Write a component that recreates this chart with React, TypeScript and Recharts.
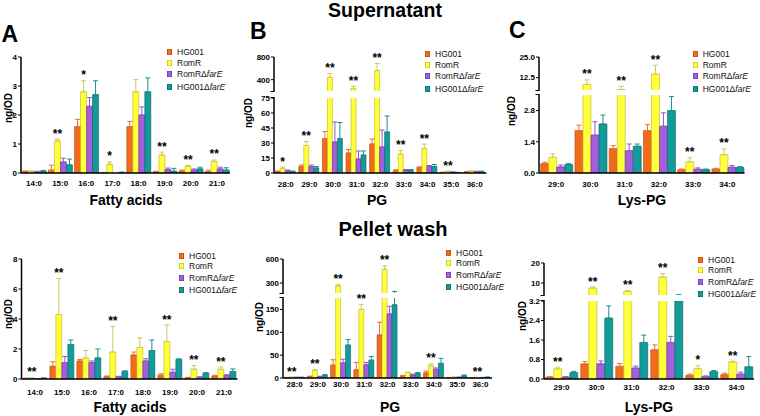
import React from 'react';
import { BarChart, Bar, XAxis, YAxis, ErrorBar, ReferenceArea, LabelList, Legend } from 'recharts';

const FONT = '"Liberation Sans", Arial, Helvetica, sans-serif';

// ---------- series ----------
const seriesNames = ['HG001', 'RomR', 'RomRΔfarE', 'HG001ΔfarE'];
const seriesFill = ['#F26B1D', '#FFFF3B', '#A35FDB', '#139A9A'];
const seriesStroke = ['#B24A0E', '#B9B51C', '#6A2F9E', '#0A6262'];
const errStroke = ['#E0742E', '#CFC95A', '#9556CC', '#1E8E8E'];

// ---------- A: Supernatant, fatty acids ----------
const supFaCats = ['14:0', '15:0', '16:0', '17:0', '18:0', '19:0', '20:0', '21:0'];
const supFaHG001 = [0.05, 0.1, 1.6, 0.01, 1.6, 0.04, 0.07, 0.05];
const supFaHG001Err = [0.02, 0.17, 0.25, 0.01, 0.18, 0.02, 0.03, 0.05];
const supFaRomR = [0.06, 1.1, 2.8, 0.3, 2.8, 0.62, 0.23, 0.4];
const supFaRomRErr = [0.02, 0.07, 0.38, 0.08, 0.42, 0.1, 0.03, 0.05];
const supFaRomRdFarE = [0.04, 0.38, 2.3, 0.0, 2.0, 0.12, 0.1, 0.14];
const supFaRomRdFarEErr = [0.02, 0.13, 0.3, 0.0, 0.28, 0.05, 0.04, 0.06];
const supFaHG001dFarE = [0.07, 0.28, 2.7, 0.02, 2.8, 0.06, 0.14, 0.1];
const supFaHG001dFarEErr = [0.02, 0.2, 0.48, 0.01, 0.48, 0.1, 0.06, 0.08];
const supFaSig = ['', '**', '*', '*', '', '**', '**', '**'];
const supFaTicks = [0, 1, 2, 3, 4];

// ---------- B: Supernatant, PG ----------
const supPgCats = ['28:0', '29:0', '30:0', '31:0', '32:0', '33:0', '34:0', '35:0', '36:0'];
const supPgHG001 = [1.5, 6.5, 34.5, 20, 29, 2.5, 5.5, 0.5, 1.2];
const supPgHG001Err = [0.5, 1.5, 7, 3.5, 5, 0.7, 0.7, 0.3, 0.3];
const supPgRomR = [4.5, 27.5, 440, 245, 560, 19, 24.5, 1.5, 1.8];
const supPgRomRErr = [1.5, 4, 70, 40, 127, 3.5, 4.5, 0.5, 0.5];
const supPgRomRdFarE = [2.5, 6.5, 31, 14, 26, 3, 6.5, 0.8, 1.5];
const supPgRomRdFarEErr = [0.5, 1.5, 20, 8, 17, 0.5, 1, 0.3, 0.3];
const supPgHG001dFarE = [1.5, 5, 34.5, 18, 41, 3, 6.5, 0.5, 1.5];
const supPgHG001dFarEErr = [0.5, 1.5, 16, 4, 16, 0.5, 2, 0.2, 0.3];
const supPgSig = ['*', '**', '**', '**', '**', '**', '**', '**', ''];
const supPgLowTicks = [0, 15, 30, 45, 60, 75];
const supPgHighTicks = [400, 800];

// ---------- C: Supernatant, Lys-PG ----------
const supLysCats = ['29:0', '30:0', '31:0', '32:0', '33:0', '34:0'];
const supLysHG001 = [0.42, 1.9, 1.1, 1.9, 0.15, 0.18];
const supLysHG001Err = [0.07, 0.25, 0.13, 0.27, 0.03, 0.03];
const supLysRomR = [0.7, 8.4, 5.3, 14.7, 0.5, 0.82];
const supLysRomRErr = [0.16, 2.7, 1.9, 5.3, 0.18, 0.26];
const supLysRomRdFarE = [0.27, 1.7, 1.0, 2.1, 0.17, 0.26];
const supLysRomRdFarEErr = [0.09, 0.6, 0.3, 0.6, 0.06, 0.08];
const supLysHG001dFarE = [0.38, 2.2, 1.2, 2.8, 0.15, 0.25];
const supLysHG001dFarEErr = [0.04, 0.4, 0.1, 0.63, 0.03, 0.04];
const supLysSig = ['', '**', '**', '**', '**', '**'];
const supLysLowTicks = [0, 1.4, 2.8];
const supLysHighTicks = [12.5, 25];

// ---------- Pellet wash, fatty acids ----------
const pelFaCats = ['14:0', '15:0', '16:0', '17:0', '18:0', '19:0', '20:0', '21:0'];
const pelFaHG001 = [0.04, 0.85, 1.2, 0.15, 1.6, 0.25, 0.08, 0.2];
const pelFaHG001Err = [0.02, 0.3, 0.1, 0.05, 0.2, 0.1, 0.03, 0.05];
const pelFaRomR = [0.06, 4.3, 1.4, 1.8, 2.1, 2.5, 0.65, 0.65];
const pelFaRomRErr = [0.03, 2.4, 0.5, 1.7, 0.65, 1.1, 0.25, 0.15];
const pelFaRomRdFarE = [0.02, 1.1, 1.1, 0.15, 1.2, 0.45, 0.12, 0.25];
const pelFaRomRdFarEErr = [0.01, 0.4, 0.1, 0.03, 0.15, 0.2, 0.03, 0.03];
const pelFaHG001dFarE = [0.05, 2.3, 1.4, 0.5, 1.9, 1.3, 0.38, 0.5];
const pelFaHG001dFarEErr = [0.02, 0.3, 0.6, 0.05, 0.7, 0.05, 0.05, 0.17];
const pelFaSig = ['**', '**', '', '**', '', '**', '**', '**'];
const pelFaTicks = [0, 2, 4, 6, 8];

// ---------- Pellet wash, PG ----------
const pelPgCats = ['28:0', '29:0', '30:0', '31:0', '32:0', '33:0', '34:0', '35:0', '36:0'];
const pelPgHG001 = [0.8, 3, 28, 18, 94, 4, 11, 1, 0.5];
const pelPgHG001Err = [0.5, 1, 12, 16, 28, 1.5, 4, 0.3, 0.3];
const pelPgRomR = [1.5, 17, 262, 150, 471, 12, 27, 1.5, 0.8];
const pelPgRomRErr = [0.5, 1, 18, 11, 43, 1, 4, 0.5, 0.3];
const pelPgRomRdFarE = [1.2, 3, 33, 29, 140, 7, 19, 1.5, 1];
const pelPgRomRdFarEErr = [0.5, 0.8, 8, 5, 17, 1.5, 3, 0.5, 0.3];
const pelPgHG001dFarE = [1.2, 6, 72, 39, 160, 10, 32, 5, 1.5];
const pelPgHG001dFarEErr = [0.5, 1.5, 12, 8, 35, 2, 11, 1.5, 0.5];
const pelPgSig = ['**', '**', '**', '**', '**', '', '**', '', '**'];
const pelPgLowTicks = [0, 50, 100, 150];
const pelPgHighTicks = [300, 600];

// ---------- Pellet wash, Lys-PG ----------
const pelLysCats = ['29:0', '30:0', '31:0', '32:0', '33:0', '34:0'];
const pelLysHG001 = [0.08, 0.62, 0.52, 1.2, 0.15, 0.18];
const pelLysHG001Err = [0.02, 0.1, 0.12, 0.2, 0.05, 0.06];
const pelLysRomR = [0.42, 7.5, 5.8, 13, 0.42, 0.7];
const pelLysRomRErr = [0.07, 0.5, 0.5, 1.7, 0.12, 0.03];
const pelLysRomRdFarE = [0.08, 0.62, 0.45, 1.5, 0.1, 0.2];
const pelLysRomRdFarEErr = [0.02, 0.12, 0.08, 0.25, 0.03, 0.08];
const pelLysHG001dFarE = [0.26, 2.5, 1.5, 3.2, 0.3, 0.5];
const pelLysHG001dFarEErr = [0.05, 0.5, 0.3, 1.0, 0.05, 0.42];
const pelLysSig = ['**', '**', '**', '**', '*', '**'];
const pelLysLowTicks = [0, 0.8, 1.6, 2.4, 3.2];
const pelLysHighTicks = [10, 20];

// ---------- helpers ----------
type AxisCfg = {
  lowMax: number; lowPx: number;
  highMin?: number; highMax?: number; gapPx?: number; highPx?: number;
};

function makeDisp(a: AxisCfg) {
  return (v: number) => {
    if (a.highMin === undefined || v <= a.lowMax) return (v / a.lowMax) * a.lowPx;
    const gap = a.gapPx || 0;
    if (v < a.highMin) return a.lowPx + ((v - a.lowMax) / (a.highMin - a.lowMax)) * gap;
    return a.lowPx + gap + ((v - a.highMin) / ((a.highMax as number) - a.highMin)) * (a.highPx || 0);
  };
}

function BreakShape(props: any) {
  const { x, y, width, height } = props;
  if (x == null || y == null) return null;
  return (
    <g>
      <rect x={x - 1.3} y={y} width={width + 1.3} height={height} fill="#fff" />
      <line x1={x - 3.5} x2={x + 0.75} y1={y + 0.5} y2={y + 0.5} stroke="#000" strokeWidth={1} />
      <line x1={x - 3.5} x2={x + 0.75} y1={y + height - 0.5} y2={y + height - 0.5} stroke="#000" strokeWidth={1} />
    </g>
  );
}

const legendOffsets = [0, 10.5, 22, 34.5];

function LegendLabel({ name }: { name: string }) {
  const i = name.indexOf('Δ');
  if (i < 0) return <>{name}</>;
  return (
    <>
      {name.slice(0, i + 1)}
      <i>{name.slice(i + 1)}</i>
    </>
  );
}

function LegendBox() {
  return (
    <div style={{ position: 'relative', width: 66, height: 44, fontSize: 8.5, lineHeight: '10px', color: '#111', fontFamily: FONT }}>
      {seriesNames.map((n, k) => (
        <div key={n} style={{ position: 'absolute', left: 0, top: legendOffsets[k], height: 10, whiteSpace: 'nowrap' }}>
          <span
            style={{
              position: 'absolute', left: 0, top: 2, width: 5, height: 6,
              background: seriesFill[k], boxShadow: `inset 0 0 0 0.6px ${seriesStroke[k]}`,
            }}
          />
          <span style={{ position: 'absolute', left: 10, top: 0 }}>
            <LegendLabel name={n} />
          </span>
        </div>
      ))}
    </div>
  );
}

type PanelCfg = {
  cats: string[];
  values: number[][];
  errors: number[][];
  sig: string[];
  axis: AxisCfg;
  lowTicks: number[];
  highTicks: number[];
  lowDec: number;
  highDec: number;
  plotLeft: number;
  plotRight: number;
  plotBottom: number;
  xTickMargin: number;
  legendX: number;
  legendY: number;
};

const KEYS = ['s0', 's1', 's2', 's3'];

function Panel({ cfg }: { cfg: PanelCfg }) {
  const disp = makeDisp(cfg.axis);
  const total = cfg.axis.lowPx + (cfg.axis.highMin !== undefined ? (cfg.axis.gapPx || 0) + (cfg.axis.highPx || 0) : 0);
  const plotTop = cfg.plotBottom - total;
  const left = Math.max(0, cfg.plotLeft - 32);
  const yW = cfg.plotLeft - left;
  const mTop = 22;
  const xH = 24;
  const top = plotTop - mTop;
  const width = cfg.plotRight - left + 4;
  const height = cfg.plotBottom - top + xH;

  const data = cfg.cats.map((c, i) => {
    const row: any = { cat: c };
    cfg.values.forEach((arr, k) => {
      const v = arr[i];
      const e = cfg.errors[k][i];
      row[KEYS[k]] = disp(v);
      row[KEYS[k] + 'e'] = [0, disp(v + e) - disp(v)];
    });
    return row;
  });

  const tickList = [
    ...cfg.lowTicks.map((v) => ({ d: disp(v), label: v.toFixed(cfg.lowDec) })),
    ...cfg.highTicks.map((v) => ({ d: disp(v), label: v.toFixed(cfg.highDec) })),
  ];
  const fmt = (v: number) => {
    let best = tickList[0];
    for (const t of tickList) if (Math.abs(t.d - v) < Math.abs(best.d - v)) best = t;
    return best.label;
  };

  const sigContent = (p: any) => {
    const i = p.index;
    const s = cfg.sig[i];
    if (!s) return null;
    const vb = p.viewBox && p.viewBox.x != null ? p.viewBox : p;
    const x = Number(vb.x);
    const y = Number(vb.y);
    const w = Number(vb.width);
    const h = Number(vb.height);
    if (!isFinite(x) || !isFinite(y)) return null;
    const base = y + (isFinite(h) ? h : 0);
    const v = cfg.values[1][i];
    const e = cfg.errors[1][i];
    const yTop = base - disp(v + e);
    return (
      <text key={`sig-${i}`} x={x + w / 2} y={yTop - 1.5} textAnchor="middle" fontSize={12} fontWeight={700} fill="#000">
        {s}
      </text>
    );
  };

  return (
    <div style={{ position: 'absolute', left, top }}>
      <BarChart
        width={width}
        height={height}
        data={data}
        margin={{ top: mTop, right: 4, bottom: 0, left: 0 }}
        barCategoryGap="5%"
        barGap={0}
      >
        <XAxis
          dataKey="cat"
          interval={0}
          tickLine={false}
          tickSize={0}
          tickMargin={cfg.xTickMargin}
          height={xH}
          axisLine={{ stroke: '#000', strokeWidth: 1.5 }}
          tick={{ fontSize: 8, fontWeight: 700, fill: '#000' }}
        />
        <YAxis
          type="number"
          domain={[0, total]}
          ticks={tickList.map((t) => t.d)}
          tickFormatter={fmt}
          interval={0}
          allowDataOverflow
          width={yW}
          tickSize={3}
          tickMargin={1}
          tickLine={{ stroke: '#000', strokeWidth: 1 }}
          axisLine={{ stroke: '#000', strokeWidth: 1.5 }}
          tick={{ fontSize: 8, fontWeight: 700, fill: '#000' }}
        />
        {KEYS.map((k, idx) => (
          <Bar
            key={k}
            dataKey={k}
            name={seriesNames[idx]}
            fill={seriesFill[idx]}
            stroke={seriesStroke[idx]}
            strokeWidth={0.6}
            isAnimationActive={false}
          >
            <ErrorBar dataKey={k + 'e'} width={2.5} stroke={errStroke[idx]} strokeWidth={1} direction="y" />
            {idx === 1 ? <LabelList dataKey={k} content={sigContent} /> : null}
          </Bar>
        ))}
        {cfg.axis.highMin !== undefined ? (
          <ReferenceArea
            y1={cfg.axis.lowPx}
            y2={cfg.axis.lowPx + (cfg.axis.gapPx || 0)}
            ifOverflow="visible"
            shape={BreakShape}
            zIndex={1500}
          />
        ) : null}
        <Legend
          layout="vertical"
          align="center"
          verticalAlign="middle"
          content={() => <LegendBox />}
          wrapperStyle={{ left: cfg.legendX - left, top: cfg.legendY - 5 - top, width: 70, height: 46 }}
        />
      </BarChart>
    </div>
  );
}

// ---------- panel configs (built from arrays) ----------
const panelA: PanelCfg = {
  cats: supFaCats,
  values: [supFaHG001, supFaRomR, supFaRomRdFarE, supFaHG001dFarE],
  errors: [supFaHG001Err, supFaRomRErr, supFaRomRdFarEErr, supFaHG001dFarEErr],
  sig: supFaSig,
  axis: { lowMax: 4, lowPx: 116 },
  lowTicks: supFaTicks, highTicks: [], lowDec: 0, highDec: 0,
  plotLeft: 21, plotRight: 230, plotBottom: 173, xTickMargin: 7,
  legendX: 167, legendY: 52.3,
};
const panelB: PanelCfg = {
  cats: supPgCats,
  values: [supPgHG001, supPgRomR, supPgRomRdFarE, supPgHG001dFarE],
  errors: [supPgHG001Err, supPgRomRErr, supPgRomRdFarEErr, supPgHG001dFarEErr],
  sig: supPgSig,
  axis: { lowMax: 75, lowPx: 75, highMin: 200, highMax: 800, gapPx: 7, highPx: 34 },
  lowTicks: supPgLowTicks, highTicks: supPgHighTicks, lowDec: 0, highDec: 0,
  plotLeft: 273.5, plotRight: 486, plotBottom: 173, xTickMargin: 8.4,
  legendX: 425, legendY: 54.3,
};
const panelC: PanelCfg = {
  cats: supLysCats,
  values: [supLysHG001, supLysRomR, supLysRomRdFarE, supLysHG001dFarE],
  errors: [supLysHG001Err, supLysRomRErr, supLysRomRdFarEErr, supLysHG001dFarEErr],
  sig: supLysSig,
  axis: { lowMax: 3.5, lowPx: 78, highMin: 5, highMax: 25, gapPx: 5, highPx: 33 },
  lowTicks: supLysLowTicks, highTicks: supLysHighTicks, lowDec: 1, highDec: 1,
  plotLeft: 538.5, plotRight: 744, plotBottom: 173, xTickMargin: 8.8,
  legendX: 692.7, legendY: 54.3,
};
const panelD: PanelCfg = {
  cats: pelFaCats,
  values: [pelFaHG001, pelFaRomR, pelFaRomRdFarE, pelFaHG001dFarE],
  errors: [pelFaHG001Err, pelFaRomRErr, pelFaRomRdFarEErr, pelFaHG001dFarEErr],
  sig: pelFaSig,
  axis: { lowMax: 8, lowPx: 120 },
  lowTicks: pelFaTicks, highTicks: [], lowDec: 0, highDec: 0,
  plotLeft: 21.5, plotRight: 237.5, plotBottom: 379, xTickMargin: 10.8,
  legendX: 179, legendY: 255.7,
};
const panelE: PanelCfg = {
  cats: pelPgCats,
  values: [pelPgHG001, pelPgRomR, pelPgRomRdFarE, pelPgHG001dFarE],
  errors: [pelPgHG001Err, pelPgRomRErr, pelPgRomRdFarEErr, pelPgHG001dFarEErr],
  sig: pelPgSig,
  axis: { lowMax: 175, lowPx: 80, highMin: 175, highMax: 600, gapPx: 5, highPx: 34 },
  lowTicks: pelPgLowTicks, highTicks: pelPgHighTicks, lowDec: 0, highDec: 0,
  plotLeft: 283, plotRight: 492, plotBottom: 378, xTickMargin: 3.1,
  legendX: 446, legendY: 252.7,
};
const panelF: PanelCfg = {
  cats: pelLysCats,
  values: [pelLysHG001, pelLysRomR, pelLysRomRdFarE, pelLysHG001dFarE],
  errors: [pelLysHG001Err, pelLysRomRErr, pelLysRomRdFarEErr, pelLysHG001dFarEErr],
  sig: pelLysSig,
  axis: { lowMax: 3.2, lowPx: 78, highMin: 4, highMax: 20, gapPx: 6, highPx: 32 },
  lowTicks: pelLysLowTicks, highTicks: pelLysHighTicks, lowDec: 1, highDec: 0,
  plotLeft: 544, plotRight: 754, plotBottom: 379.3, xTickMargin: 5.8,
  legendX: 698, legendY: 260,
};

const yTitles = [
  { x: 8, y: 108 },
  { x: 248.5, y: 113 },
  { x: 511, y: 111 },
  { x: 8, y: 314 },
  { x: 259.5, y: 317 },
  { x: 522, y: 316 },
];

const xTitles = [
  { t: 'Fatty acids', x: 126, y: 205 },
  { t: 'PG', x: 377, y: 205 },
  { t: 'Lys-PG', x: 642, y: 205 },
  { t: 'Fatty acids', x: 130, y: 411.5 },
  { t: 'PG', x: 390, y: 411.5 },
  { t: 'Lys-PG', x: 649, y: 411.5 },
];

export default function App() {
  return (
    <div
      style={{
        position: 'absolute', left: 0, top: 0, width: 760, height: 416,
        background: '#fff', overflow: 'hidden', fontFamily: FONT,
      }}
    >
      {[panelA, panelB, panelC, panelD, panelE, panelF].map((p, i) => (
        <Panel key={i} cfg={p} />
      ))}
      <svg width={760} height={416} style={{ position: 'absolute', left: 0, top: 0, pointerEvents: 'none' }}>
        <text x={385} y={17} textAnchor="middle" fontSize={19.5} fontWeight={700} fill="#000" fontFamily={FONT}>
          Supernatant
        </text>
        <text x={393} y={236} textAnchor="middle" fontSize={20} fontWeight={700} fill="#000" fontFamily={FONT}>
          Pellet wash
        </text>
        <text x={1.5} y={42} fontSize={23} fontWeight={700} fill="#000" fontFamily={FONT}>A</text>
        <text x={250} y={38.5} fontSize={23} fontWeight={700} fill="#000" fontFamily={FONT}>B</text>
        <text x={509} y={38} fontSize={23} fontWeight={700} fill="#000" fontFamily={FONT}>C</text>
        {xTitles.map((t, i) => (
          <text key={i} x={t.x} y={t.y} textAnchor="middle" fontSize={14} fontWeight={700} fill="#000" fontFamily={FONT}>
            {t.t}
          </text>
        ))}
        {yTitles.map((t, i) => (
          <text
            key={i}
            x={t.x}
            y={t.y}
            transform={`rotate(-90 ${t.x} ${t.y})`}
            textAnchor="middle"
            dominantBaseline="central"
            fontSize={10}
            fontWeight={700}
            fill="#000"
            fontFamily={FONT}
          >
            ng/OD
          </text>
        ))}
      </svg>
    </div>
  );
}
